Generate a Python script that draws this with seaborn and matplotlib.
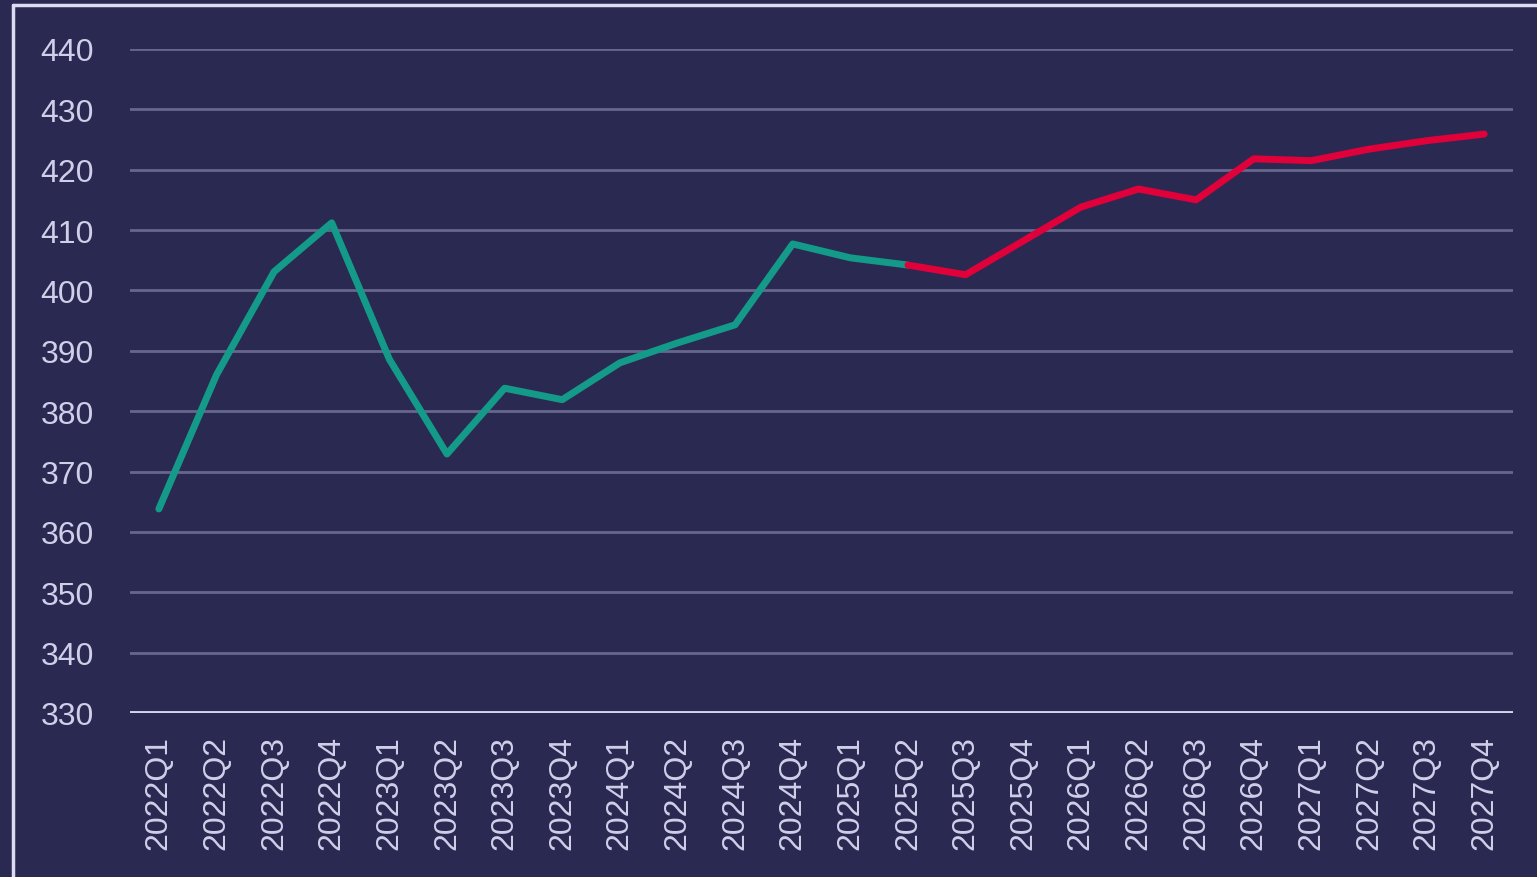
import pandas as pd
import matplotlib
matplotlib.use("Agg")
import matplotlib.pyplot as plt
from matplotlib.lines import Line2D
import seaborn as sns

quarters = ["2022Q1", "2022Q2", "2022Q3", "2022Q4",
            "2023Q1", "2023Q2", "2023Q3", "2023Q4",
            "2024Q1", "2024Q2", "2024Q3", "2024Q4",
            "2025Q1", "2025Q2", "2025Q3", "2025Q4",
            "2026Q1", "2026Q2", "2026Q3", "2026Q4",
            "2027Q1", "2027Q2", "2027Q3", "2027Q4"]
actual = [363.8, 386.0, 403.1, 411.2, 388.6, 372.9, 383.8, 381.9,
          388.0, 391.3, 394.3, 407.7, 405.4, 404.2]
forecast = [404.2, 402.6, 408.2, 413.8, 416.8, 415.0, 421.8, 421.5,
            423.4, 424.8, 425.9]
y_ticks = [330, 340, 350, 360, 370, 380, 390, 400, 410, 420, 430, 440]

bg = "#2a2952"
text_col = "#d0cfea"

sns.set_theme(style="dark")
plt.rcParams["font.family"] = ["Liberation Sans", "DejaVu Sans"]

fig = plt.figure(figsize=(15.37, 8.78), dpi=100, facecolor=bg)
ax = fig.add_axes([0.0846, 0.1868, 0.8998, 0.7563], facecolor=bg)

df_act = pd.DataFrame({"x": range(len(actual)), "value": actual})
df_fc = pd.DataFrame({"x": range(len(actual) - 1, len(actual) - 1 + len(forecast)),
                      "value": forecast})

# gridlines first so the lines sit on top
for y in y_ticks[1:]:
    ax.axhline(y, color="#67668c", lw=2.0, zorder=1)
ax.axhline(330, color="#d4d3ee", lw=2.8, zorder=2)

sns.lineplot(data=df_act, x="x", y="value", ax=ax, color="#149a88",
             linewidth=5.0, solid_capstyle="round", zorder=3)
sns.lineplot(data=df_fc, x="x", y="value", ax=ax, color="#e0003a",
             linewidth=5.0, solid_capstyle="round", zorder=3)

ax.set_xlim(-0.5, len(quarters) - 0.5)
ax.set_ylim(330, 440)
ax.set_xticks(range(len(quarters)))
ax.set_xticklabels(quarters, rotation=90)
ax.set_yticks(y_ticks)
ax.tick_params(axis="x", length=0, pad=16, labelsize=23, labelcolor=text_col)
ax.tick_params(axis="y", length=0, pad=26, labelsize=23, labelcolor=text_col)
ax.set_xlabel("")
ax.set_ylabel("")
ax.grid(False)
for s in ax.spines.values():
    s.set_visible(False)

# light frame along top and left edges
fig.add_artist(Line2D([13 / 1537, 13 / 1537], [0, 1 - 6 / 878],
                      transform=fig.transFigure, color="#dcdbf2", lw=2.5))
fig.add_artist(Line2D([13 / 1537, 1], [1 - 6 / 878, 1 - 6 / 878],
                      transform=fig.transFigure, color="#dcdbf2", lw=2.5))

fig.savefig("out.png", dpi=100, facecolor=bg)
